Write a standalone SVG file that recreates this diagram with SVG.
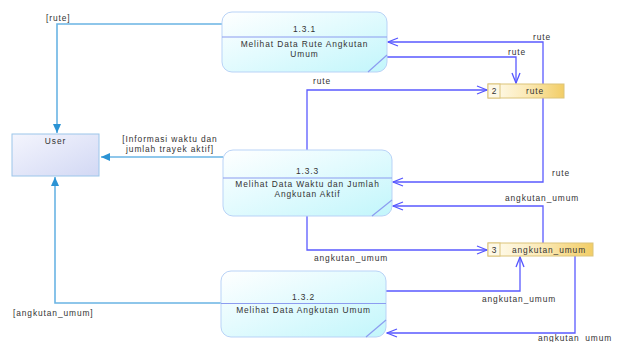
<svg xmlns="http://www.w3.org/2000/svg" width="617" height="342" viewBox="0 0 617 342">
  <defs>
    <linearGradient id="procFill" x1="0" y1="0" x2="1" y2="1">
      <stop offset="0" stop-color="#ffffff"/>
      <stop offset="0.45" stop-color="#e4fbfe"/>
      <stop offset="1" stop-color="#c2f6fb"/>
    </linearGradient>
    <linearGradient id="userFill" x1="0" y1="0" x2="1" y2="1">
      <stop offset="0" stop-color="#f4f5fd"/>
      <stop offset="1" stop-color="#d2d8f4"/>
    </linearGradient>
    <linearGradient id="storeFill" x1="0" y1="0" x2="1" y2="0">
      <stop offset="0" stop-color="#fffdf3"/>
      <stop offset="0.5" stop-color="#fbeab8"/>
      <stop offset="1" stop-color="#f2cd66"/>
    </linearGradient>
    <marker id="openArrow" markerUnits="userSpaceOnUse" markerWidth="12" markerHeight="10" refX="11" refY="5" orient="auto">
      <path d="M1,1 L11,5 L1,9" fill="none" stroke="#5555ff" stroke-width="1.3"/>
    </marker>
    <marker id="solidArrow" markerUnits="userSpaceOnUse" markerWidth="10" markerHeight="10" refX="9" refY="5" orient="auto">
      <path d="M0,1 L9,5 L0,9 Z" fill="#2b93d4"/>
    </marker>
  </defs>
  <style>
    text { font-family: "Liberation Sans", Arial, sans-serif; font-size: 8.4px; fill: #333333; letter-spacing: 0.9px; }
    .mid { text-anchor: middle; }
    .proc { fill: url(#procFill); stroke: #b9d3f7; stroke-width: 1; }
    .div { stroke: #8c9cf0; stroke-width: 1.2; fill: none; }
    .flow { fill: none; stroke: #5a5aff; stroke-width: 1.3; }
    .uflow { fill: none; stroke: #6ab4e4; stroke-width: 1.6; }
    .store { fill: url(#storeFill); stroke: #dcc47a; stroke-width: 1; }
    .storeNum { fill: #fdf8e6; stroke: #dcc47a; stroke-width: 1; }
  </style>

  <!-- data flows -->
  <g id="connectors">
    <path class="flow" d="M543,84 V42 H388" marker-end="url(#openArrow)"/>
    <text x="533" y="40">rute</text>
    <path class="flow" d="M387,57 H516 V83" marker-end="url(#openArrow)"/>
    <text x="508" y="55">rute</text>
    <path class="flow" d="M307,150 V90 H487" marker-end="url(#openArrow)"/>
    <text x="313" y="84">rute</text>
    <path class="flow" d="M543,98 V182 H393" marker-end="url(#openArrow)"/>
    <text x="552" y="176">rute</text>
    <path class="flow" d="M543,243 V206 H393" marker-end="url(#openArrow)"/>
    <text x="505" y="201">angkutan_umum</text>
    <path class="flow" d="M307,216 V250 H487" marker-end="url(#openArrow)"/>
    <text x="314" y="261">angkutan_umum</text>
    <path class="flow" d="M386,291 H520 V257" marker-end="url(#openArrow)"/>
    <text x="482" y="302">angkutan_umum</text>
    <path class="flow" d="M575,256 V333 H387" marker-end="url(#openArrow)"/>
    <text x="538" y="341">angkutan_umum</text>

    <path class="uflow" d="M222,24 H57 V133" marker-end="url(#solidArrow)"/>
    <text x="46" y="21">[rute]</text>
    <path class="uflow" d="M223,157 H101" marker-end="url(#solidArrow)"/>
    <text class="mid" x="170" y="142">[Informasi waktu dan</text>
    <text class="mid" x="170" y="152">jumlah trayek aktif]</text>
    <path class="uflow" d="M221,303 H55 V177" marker-end="url(#solidArrow)"/>
    <text x="13" y="316">[angkutan_umum]</text>
  </g>

  <!-- external entity -->
  <g id="user">
    <rect x="12" y="134" width="87" height="42" fill="url(#userFill)" stroke="#9cc6ea" stroke-width="1"/>
    <text class="mid" x="55.5" y="144">User</text>
  </g>

  <!-- processes -->
  <g id="p131">
    <rect class="proc" x="222" y="12" width="165" height="60" rx="10"/>
    <line class="div" x1="222" y1="37" x2="387" y2="37"/>
    <line class="div" x1="368" y1="72" x2="387" y2="55"/>
    <text class="mid" x="304.5" y="32">1.3.1</text>
    <text class="mid" x="304.5" y="47">Melihat Data Rute Angkutan</text>
    <text class="mid" x="304.5" y="57">Umum</text>
  </g>

  <g id="p133">
    <rect class="proc" x="223" y="150" width="169" height="66" rx="10"/>
    <line class="div" x1="223" y1="178" x2="392" y2="178"/>
    <line class="div" x1="372" y1="216" x2="392" y2="200"/>
    <text class="mid" x="307.5" y="174">1.3.3</text>
    <text class="mid" x="307.5" y="187">Melihat Data Waktu dan Jumlah</text>
    <text class="mid" x="307.5" y="197">Angkutan Aktif</text>
  </g>

  <g id="p132">
    <rect class="proc" x="221" y="271" width="165" height="66" rx="10"/>
    <line class="div" x1="221" y1="303.5" x2="386" y2="303.5"/>
    <line class="div" x1="366" y1="337" x2="386" y2="320"/>
    <text class="mid" x="303.5" y="300">1.3.2</text>
    <text class="mid" x="303.5" y="313">Melihat Data Angkutan Umum</text>
  </g>

  <!-- data stores -->
  <g id="store2">
    <rect class="store" x="488" y="84" width="76" height="14"/>
    <rect class="storeNum" x="488" y="84" width="12" height="14"/>
    <text class="mid" x="494.5" y="94">2</text>
    <text class="mid" x="535" y="94">rute</text>
  </g>

  <g id="store3">
    <rect class="store" x="488" y="243" width="105" height="13"/>
    <rect class="storeNum" x="488" y="243" width="12" height="13"/>
    <text class="mid" x="494.5" y="252.5">3</text>
    <text class="mid" x="549" y="252.5">angkutan_umum</text>
  </g>
</svg>
